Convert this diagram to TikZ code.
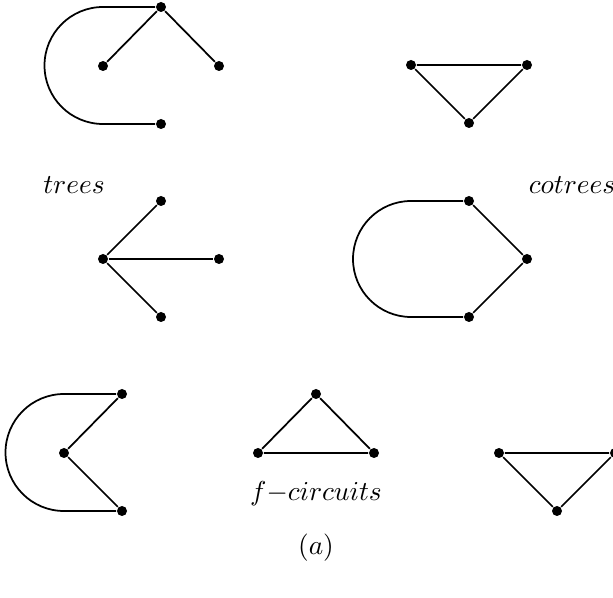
\documentclass[tikz,border=0pt]{standalone}
\usepackage{amsmath}
\usepackage{tikz}

\begin{document}
\begin{tikzpicture}[x=0.4pt, y=0.4pt, line width=0.7pt,
    font=\fontsize{11}{13}\selectfont,
    vertex/.style={circle, fill, inner sep=0pt, minimum size=4pt}]
  \useasboundingbox (0,0) rectangle (613,-598);
  % trees
  \node[vertex] (a1) at (161,-7) {};
  \node[vertex] (b1) at (103,-66) {};
  \node[vertex] (c1) at (219,-66) {};
  \node[vertex] (d1) at (161,-124) {};
  \draw (a1) -- (b1); \draw (a1) -- (c1);
  \draw (a1) -- (b1 |- a1) arc[start angle=90, end angle=270, radius=58.5] -- (d1);
  \node[vertex] (h3) at (103,-259) {};
  \node[vertex] (t3) at (161,-201) {};
  \node[vertex] (r3) at (219,-259) {};
  \node[vertex] (b3) at (161,-317) {};
  \draw (h3) -- (t3); \draw (h3) -- (r3); \draw (h3) -- (b3);
  \node (trees) at (74,-185) {$trees$};
  % cotrees
  \node[vertex] (a2) at (411,-65) {};
  \node[vertex] (b2) at (527,-65) {};
  \node[vertex] (c2) at (469,-123) {};
  \draw (a2) -- (b2) -- (c2) -- (a2);
  \node[vertex] (t4) at (469,-201) {};
  \node[vertex] (r4) at (527,-259) {};
  \node[vertex] (b4) at (469,-317) {};
  \draw (t4) -- (r4); \draw (r4) -- (b4);
  \draw (t4) -- (411,-201) arc[start angle=90, end angle=270, radius=58] -- (b4);
  \node[anchor=west, inner sep=0pt] (cotrees) at (528,-185) {$cotrees$};
  % f-circuits
  \node[vertex] (t5) at (122,-394) {};
  \node[vertex] (m5) at (64,-453) {};
  \node[vertex] (b5) at (122,-511) {};
  \draw (m5) -- (t5); \draw (m5) -- (b5);
  \draw (t5) -- (m5 |- t5) arc[start angle=90, end angle=270, radius=58.5] -- (b5);
  \node[vertex] (t6) at (316,-394) {};
  \node[vertex] (l6) at (258,-453) {};
  \node[vertex] (r6) at (374,-453) {};
  \draw (t6) -- (l6) -- (r6) -- (t6);
  \node[vertex] (l7) at (499,-453) {};
  \node[vertex] (r7) at (615,-453) {};
  \node[vertex] (b7) at (557,-511) {};
  \draw (l7) -- (r7) -- (b7) -- (l7);
  \node (fcirc) at (316,-494) {$f{-}circuits$};
  \node (cap) at (316,-548) {$(a)$};
\end{tikzpicture}
\end{document}
